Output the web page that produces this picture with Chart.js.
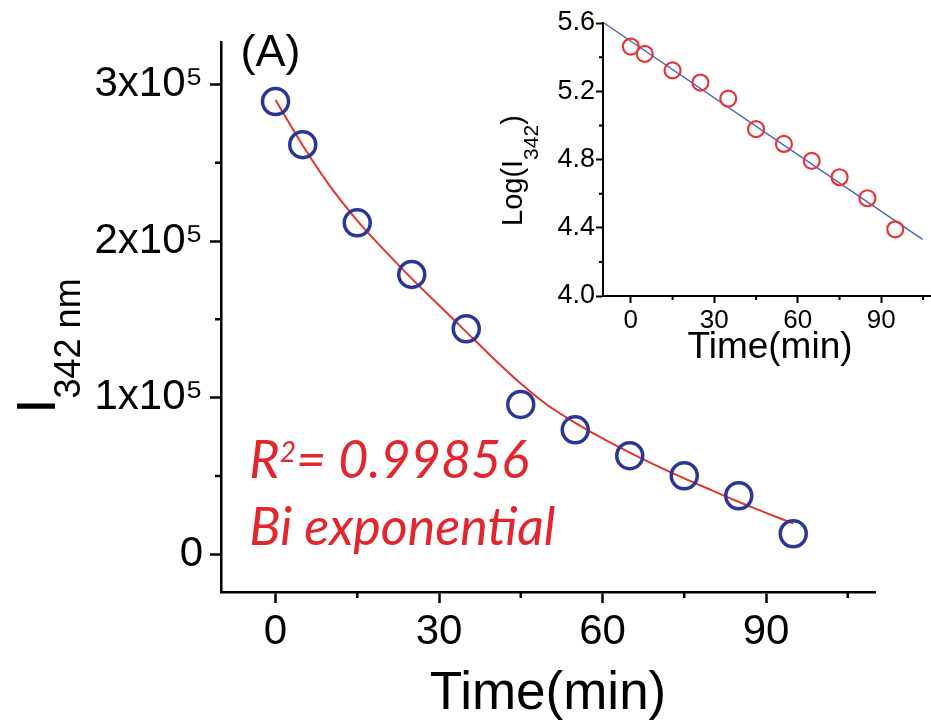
<!DOCTYPE html>
<html>
<head>
<meta charset="utf-8">
<script src="https://cdn.jsdelivr.net/npm/chart.js@4.4.0/dist/chart.umd.min.js"></script>
<style>
  html, body { margin: 0; padding: 0; background: #fff; overflow: hidden; }
  #wrap { position: relative; width: 931px; height: 726px; overflow: hidden; }
  #main { position: absolute; left: 0; top: 0; }
  #inset { position: absolute; left: 480px; top: 0; }
</style>
</head>
<body>
<div id="wrap">
  <canvas id="main" width="931" height="726"></canvas>
  <canvas id="inset" width="480" height="380"></canvas>
</div>
<script>
// measured points (time in min, intensity at 342 nm)
const timeMin = [0, 5, 15, 25, 35, 45, 55, 65, 75, 85, 95];
const intensity = [289000, 261500, 211600, 178700, 144000, 95700, 79500, 63000, 50200, 37400, 13200];

// bi-exponential fit curve
const fitTime = [0, 5, 10, 15, 20, 25, 30, 35, 40, 45, 50, 55, 60, 65, 70, 75, 80, 85, 90, 95];
const fitIntensity = [290000, 261000, 235000, 213000, 194000, 176000, 159000, 142000, 125000, 109000,
                      95000, 84000, 74000, 65000, 56500, 48500, 41000, 33500, 26500, 19700];

// inset: log10 of intensity + linear fit
const logIntensity = [5.462, 5.419, 5.322, 5.251, 5.157, 4.978, 4.891, 4.792, 4.696, 4.573, 4.391];
const logFitTime = [-9.6, 104.8];
const logFitValue = [5.6, 4.332];

// ticks
const timeTicks = [0, 30, 60, 90];
const timeMinorTicks = [15, 45, 75, 105];
const intensityTicks = [0, 100000, 200000, 300000];
const intensityTickLabels = ['0', '1x10\u2075', '2x10\u2075', '3x10\u2075'];
const intensityMinorTicks = [50000, 150000, 250000];
const logTicks = [4.0, 4.4, 4.8, 5.2, 5.6];
const logTickLabels = ['4.0', '4.4', '4.8', '5.2', '5.6'];
const logMinorTicks = [4.2, 4.6, 5.0, 5.4];

const FONT = "'Liberation Sans', Arial, Helvetica, sans-serif";
Chart.defaults.font.family = FONT;
Chart.defaults.color = '#000';

const pts = (xs, ys) => xs.map((x, i) => ({ x: x, y: ys[i] }));

// minor tick marks (shorter than the major ones)
const minorTicks = {
  id: 'minorTicks',
  afterDraw(chart, args, opts) {
    const ctx = chart.ctx;
    const xs = chart.scales.x, ys = chart.scales.y;
    ctx.save();
    ctx.strokeStyle = '#000';
    ctx.lineWidth = opts.width;
    ctx.beginPath();
    opts.x.forEach(v => {
      const px = xs.getPixelForValue(v);
      ctx.moveTo(px, xs.top);
      ctx.lineTo(px, xs.top + opts.len);
    });
    opts.y.forEach(v => {
      const py = ys.getPixelForValue(v);
      ctx.moveTo(ys.right, py);
      ctx.lineTo(ys.right - opts.len, py);
    });
    ctx.stroke();
    ctx.restore();
  }
};

// rotated axis title with a subscript part
function drawRotated(ctx, x, y, parts) {
  ctx.save();
  ctx.translate(x, y);
  ctx.rotate(-Math.PI / 2);
  ctx.textAlign = 'left';
  ctx.textBaseline = 'alphabetic';
  ctx.fillStyle = '#000';
  let off = 0;
  parts.forEach(p => {
    ctx.font = p.size + 'px ' + FONT;
    ctx.fillText(p.text, off, p.dy);
    off += ctx.measureText(p.text).width;
  });
  ctx.restore();
}

const mainText = {
  id: 'mainText',
  afterDraw(chart) {
    const ctx = chart.ctx;
    const xs = chart.scales.x, ys = chart.scales.y;
    const area = chart.chartArea;
    drawRotated(ctx, area.left - 166, area.bottom - 178, [
      { text: 'I', size: 56, dy: 0 },
      { text: '342 nm', size: 36, dy: 25 }
    ]);
    ctx.save();
    ctx.textAlign = 'left';
    ctx.textBaseline = 'alphabetic';
    ctx.fillStyle = '#000';
    ctx.font = '45px ' + FONT;
    ctx.fillText('(A)', xs.getPixelForValue(-6.4), ys.getPixelForValue(312000));

    ctx.fillStyle = '#e3262d';
    const it = "italic 52px Lato, 'Open Sans', sans-serif";
    let x = xs.getPixelForValue(-4.8);
    const y1 = ys.getPixelForValue(48500);
    ctx.font = it;
    ctx.fillText('R', x, y1);
    x += ctx.measureText('R').width;
    ctx.font = "italic 28px Lato, 'Open Sans', sans-serif";
    ctx.fillText('2', x, y1 - 16);
    x += ctx.measureText('2').width;
    ctx.font = it;
    ctx.fillText('= 0.99856', x, y1);
    ctx.fillText('Bi exponential', xs.getPixelForValue(-4.8), ys.getPixelForValue(5700));
    ctx.restore();
  }
};

const insetText = {
  id: 'insetText',
  afterDraw(chart) {
    const area = chart.chartArea;
    drawRotated(chart.ctx, area.left - 81, area.bottom - 70, [
      { text: 'Log(I', size: 29, dy: 0 },
      { text: '342', size: 21, dy: 16 },
      { text: ')', size: 29, dy: 0 }
    ]);
  }
};

new Chart(document.getElementById('main'), {
  type: 'scatter',
  data: {
    datasets: [
      {
        data: pts(timeMin, intensity),
        pointStyle: 'circle',
        pointRadius: 13,
        pointBorderWidth: 3.5,
        pointBackgroundColor: 'rgba(0,0,0,0)',
        pointBorderColor: '#2b3798',
        order: 0
      },
      {
        data: pts(fitTime, fitIntensity),
        showLine: true,
        pointRadius: 0,
        borderColor: '#e3342f',
        borderWidth: 2,
        cubicInterpolationMode: 'monotone',
        order: 1
      }
    ]
  },
  options: {
    responsive: false,
    animation: false,
    clip: false,
    layout: { padding: { left: 0, top: 42, right: 56, bottom: 0 } },
    plugins: {
      legend: { display: false },
      tooltip: { enabled: false },
      minorTicks: { x: timeMinorTicks, y: intensityMinorTicks, len: 6, width: 2.5 }
    },
    scales: {
      x: {
        type: 'linear',
        min: -10,
        max: 110,
        afterBuildTicks: s => { s.ticks = timeTicks.map(v => ({ value: v })); },
        afterFit: s => { s.height = 134; },
        border: { display: true, color: '#000', width: 2.5 },
        grid: { display: true, drawOnChartArea: false, drawTicks: true, tickLength: 11, tickWidth: 2.5, tickColor: '#000' },
        ticks: { font: { size: 42 }, color: '#000', padding: 4, maxRotation: 0, autoSkip: false,
                 callback: (v, i) => String(timeTicks[i]) },
        title: { display: true, text: 'Time(min)', font: { size: 53 }, color: '#000', padding: 0 }
      },
      y: {
        type: 'linear',
        min: -24000,
        max: 327000,
        afterBuildTicks: s => { s.ticks = intensityTicks.map(v => ({ value: v })); },
        afterFit: s => { s.width = 221; },
        border: { display: true, color: '#000', width: 2.5 },
        grid: { display: true, drawOnChartArea: false, drawTicks: true, tickLength: 11, tickWidth: 2.5, tickColor: '#000' },
        ticks: { font: { size: 42 }, color: '#000', padding: 7, autoSkip: false,
                 callback: (v, i) => intensityTickLabels[i] }
      }
    }
  },
  plugins: [minorTicks, mainText]
});

new Chart(document.getElementById('inset'), {
  type: 'scatter',
  data: {
    datasets: [
      {
        data: pts(timeMin, logIntensity),
        pointStyle: 'circle',
        pointRadius: 8,
        pointBorderWidth: 2.2,
        pointBackgroundColor: 'rgba(0,0,0,0)',
        pointBorderColor: '#e8353a',
        order: 0
      },
      {
        data: pts(logFitTime, logFitValue),
        showLine: true,
        pointRadius: 0,
        borderColor: '#4a63b5',
        borderWidth: 1.5,
        order: 1
      }
    ]
  },
  options: {
    responsive: false,
    animation: false,
    clip: false,
    layout: { padding: { left: 0, top: 23, right: 23, bottom: 0 } },
    plugins: {
      legend: { display: false },
      tooltip: { enabled: false },
      minorTicks: { x: timeMinorTicks, y: logMinorTicks, len: 4, width: 2 }
    },
    scales: {
      x: {
        type: 'linear',
        min: -10,
        max: 110,
        afterBuildTicks: s => { s.ticks = timeTicks.map(v => ({ value: v })); },
        afterFit: s => { s.height = 84; },
        border: { display: true, color: '#000', width: 2 },
        grid: { display: true, drawOnChartArea: false, drawTicks: true, tickLength: 7, tickWidth: 2, tickColor: '#000' },
        ticks: { font: { size: 26 }, color: '#000', padding: 2, maxRotation: 0, autoSkip: false,
                 callback: (v, i) => String(timeTicks[i]) },
        title: { display: true, text: 'Time(min)', font: { size: 37 }, color: '#000', padding: { top: 0, bottom: 10 } }
      },
      y: {
        type: 'linear',
        min: 4.0,
        max: 5.6,
        afterBuildTicks: s => { s.ticks = logTicks.map(v => ({ value: v })); },
        afterFit: s => { s.width = 123; },
        border: { display: true, color: '#000', width: 2 },
        grid: { display: true, drawOnChartArea: false, drawTicks: true, tickLength: 7, tickWidth: 2, tickColor: '#000' },
        ticks: { font: { size: 27 }, color: '#000', padding: 1, autoSkip: false,
                 callback: (v, i) => logTickLabels[i] }
      }
    }
  },
  plugins: [minorTicks, insetText]
});
</script>
</body>
</html>
